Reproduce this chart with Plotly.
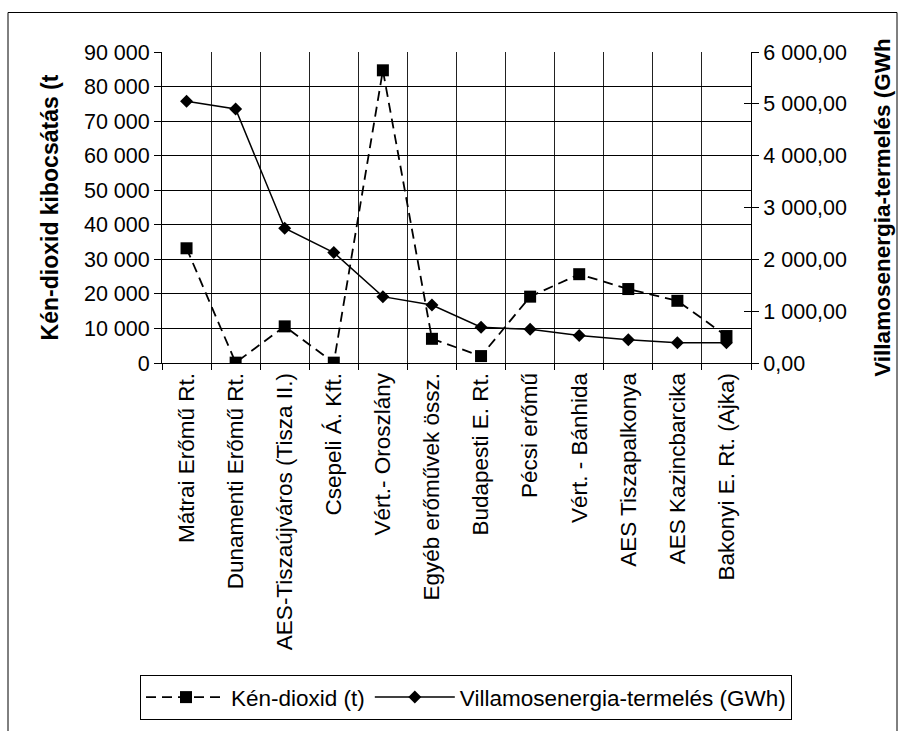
import plotly.graph_objects as go

categories = ["Mátrai Erőmű Rt.", "Dunamenti Erőmű Rt.", "AES-Tiszaújváros (Tisza II.)",
              "Csepeli Á. Kft.", "Vért.- Oroszlány", "Egyéb erőművek össz.",
              "Budapesti E. Rt.", "Pécsi erőmű", "Vért. - Bánhida", "AES Tiszapalkonya",
              "AES Kazincbarcika", "Bakonyi E. Rt. (Ajka)"]
so2_t = [33200, 100, 10600, 100, 84700, 7000, 2000, 19200, 25700, 21400, 18000, 7800]
power_gwh = [5050, 4900, 2600, 2130, 1280, 1120, 690, 650, 530, 450, 390, 390]
left_ticks = [0, 10000, 20000, 30000, 40000, 50000, 60000, 70000, 80000, 90000]
right_ticks = [0, 1000, 2000, 3000, 4000, 5000, 6000]

FONT = "Liberation Sans, Arial, sans-serif"
L, R, T, B = 162, 158, 52, 364
W, H = 909, 731
pw, ph = W - L - R, H - T - B

def px(x):
    return (x - L) / pw

def py(y):
    return (H - B - y) / ph

fig = go.Figure()
fig.add_trace(go.Scatter(
    x=categories, y=so2_t, name="Kén-dioxid (t)", mode="lines+markers",
    line=dict(color="black", width=1.8, dash="10px,6px"),
    marker=dict(symbol="square", size=12, color="black"),
    yaxis="y"))
fig.add_trace(go.Scatter(
    x=categories, y=power_gwh, name="Villamosenergia-termelés (GWh)", mode="lines+markers",
    line=dict(color="black", width=1.5),
    marker=dict(symbol="diamond", size=10, color="black"),
    yaxis="y2"))

fig.update_layout(
    width=W, height=H,
    margin=dict(l=L, r=R, t=T, b=B),
    paper_bgcolor="white", plot_bgcolor="white",
    separators=", ",
    font=dict(family=FONT, size=21, color="black"),
    showlegend=True,
    legend=dict(orientation="h", x=px(140), y=py(683), xanchor="left", yanchor="top",
                bordercolor="black", borderwidth=1, font=dict(size=22.5, family=FONT),
                itemwidth=80, tracegroupgap=0),
    xaxis=dict(type="category", tickson="boundaries", ticks="outside", ticklen=6,
               tickcolor="black", showline=True, linecolor="black", linewidth=1,
               showgrid=True, gridcolor="#222", gridwidth=1, tickangle=-90,
               tickfont=dict(size=22.5, family=FONT), mirror=False,
               range=[-0.5, len(categories) - 0.5]),
    yaxis=dict(range=[0, 90000], tickvals=left_ticks, tickformat=",d",
               showline=True, linecolor="black", linewidth=1, ticks="outside", ticklen=7,
               tickcolor="black", showgrid=True, gridcolor="black", gridwidth=1,
               zeroline=False, tickfont=dict(size=21.5, family=FONT),
               title=dict(text="<b>Kén-dioxid kibocsátás (t</b>", font=dict(size=23, family=FONT),
                          standoff=18)),
    yaxis2=dict(range=[0, 6000], tickvals=right_ticks, tickformat=",.2f", overlaying="y",
                side="right", showline=True, linecolor="black", linewidth=1,
                ticks="outside", ticklen=7, tickcolor="black", showgrid=False,
                zeroline=False, tickfont=dict(size=21.5, family=FONT),
                title=dict(text="<b>Villamosenergia-termelés (GWh</b>",
                           font=dict(size=22.5, family=FONT), standoff=28)),
    yaxis3=dict(range=[0, 6000], tickvals=right_ticks, overlaying="y", side="right",
                showticklabels=False, ticks="inside", ticklen=7, tickcolor="black",
                showgrid=False, zeroline=False, showline=False),
)

# invisible trace to activate inside ticks on the right axis
fig.add_trace(go.Scatter(x=[categories[0]], y=[None], yaxis="y3", showlegend=False,
                         hoverinfo="skip"))

# outer chart frame
fig.add_shape(type="rect", xref="paper", yref="paper",
              x0=px(8), x1=px(897), y0=py(760), y1=py(12),
              line=dict(color="black", width=1), fillcolor="rgba(0,0,0,0)", layer="below")

fig.write_html("out.html")
